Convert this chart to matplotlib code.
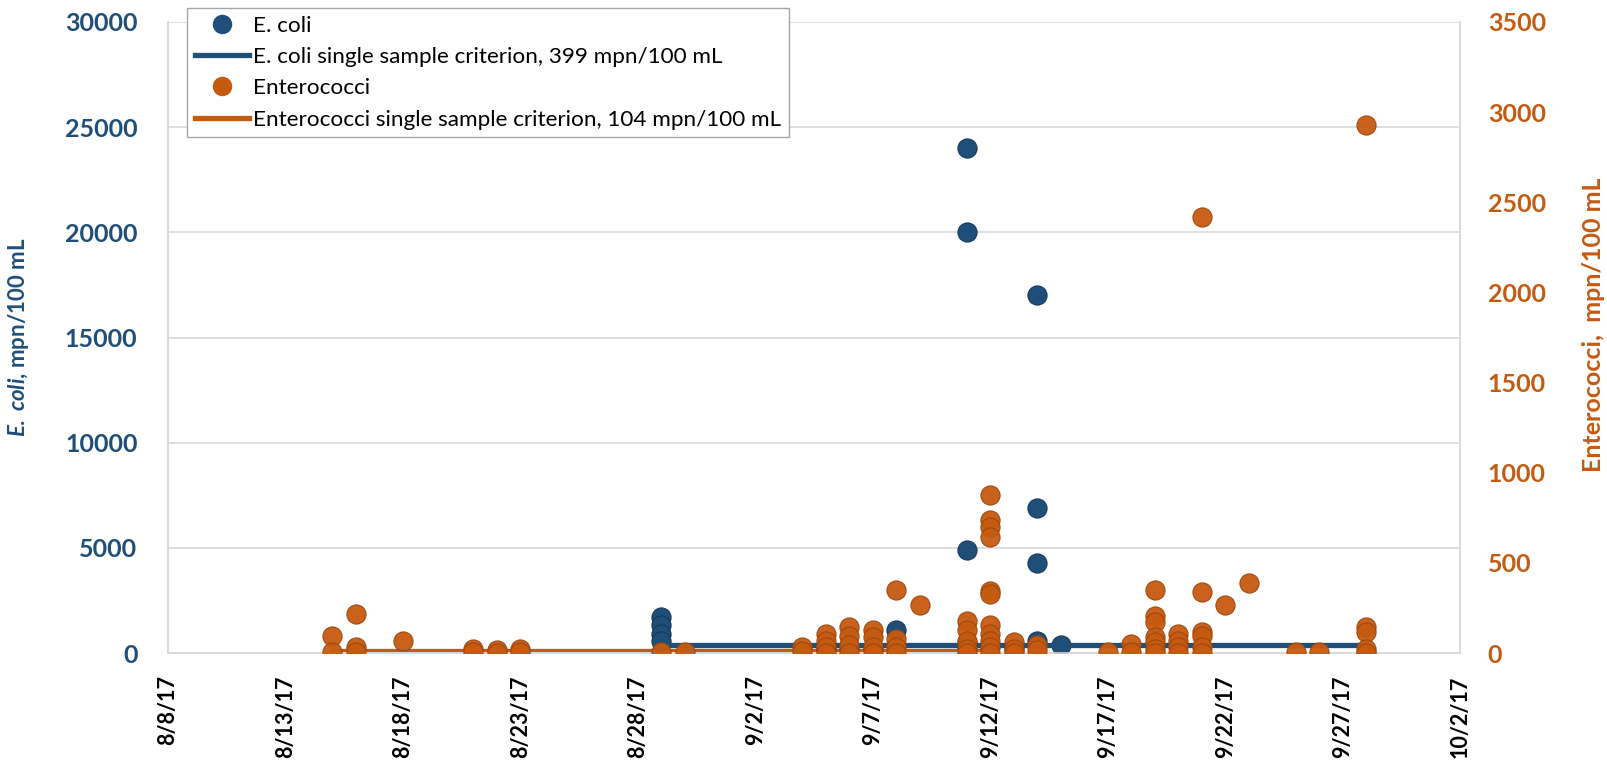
import datetime as dt

import matplotlib
matplotlib.use('Agg')
import matplotlib.pyplot as plt
import matplotlib.dates as mdates
from matplotlib.lines import Line2D

plt.rcParams['font.family'] = ['Lato', 'DejaVu Sans']
plt.rcParams['mathtext.fontset'] = 'custom'
plt.rcParams['mathtext.rm'] = 'Lato:bold'
plt.rcParams['mathtext.it'] = 'Lato:italic:bold'
plt.rcParams['mathtext.bf'] = 'Lato:bold'

BLUE = '#1F4E79'
ORANGE = '#C55A11'
GRID = '#d9d9d9'


def d(m, day):
    return dt.datetime(2017, m, day)


# E. coli samples, mpn/100 mL (left axis)
ecoli_dates = [d(8, 29), d(8, 29), d(8, 29), d(8, 29),
               d(9, 5), d(9, 6), d(9, 7), d(9, 8),
               d(9, 11), d(9, 11), d(9, 11), d(9, 11), d(9, 11),
               d(9, 12), d(9, 13),
               d(9, 14), d(9, 14), d(9, 14), d(9, 14),
               d(9, 15), d(9, 28)]
ecoli_vals = [1705, 1310, 914, 595,
              200, 300, 250, 1071,
              24000, 20000, 4900, 500, 300,
              350, 200,
              17000, 6900, 4300, 595,
              400, 20]

# Enterococci samples, mpn/100 mL (right axis)
ent_dates = ([d(8, 15)] * 2 + [d(8, 16)] * 3 + [d(8, 18)] + [d(8, 21)] * 2 +
             [d(8, 22)] * 2 + [d(8, 23)] * 2 + [d(8, 29)] + [d(8, 30)] +
             [d(9, 4)] * 2 + [d(9, 5)] * 4 + [d(9, 6)] * 4 + [d(9, 7)] * 4 +
             [d(9, 8)] * 4 + [d(9, 9)] + [d(9, 11)] * 5 + [d(9, 12)] * 11 +
             [d(9, 13)] * 3 + [d(9, 14)] * 2 + [d(9, 17)] + [d(9, 18)] * 2 +
             [d(9, 19)] * 7 + [d(9, 20)] * 4 + [d(9, 21)] * 6 + [d(9, 22)] +
             [d(9, 23)] + [d(9, 25)] + [d(9, 26)] + [d(9, 28)] * 5)
ent_vals = [97, 4,
            218, 32, 4,
            64,
            23, 4,
            14, 1,
            23, 4,
            5,
            5,
            32, 13,
            107, 69, 32, 1,
            143, 97, 42, 1,
            125, 88, 32, 1,
            351, 79, 32, 1,
            269,
            180, 125, 69, 25, 1,
            875, 736, 699, 643, 346, 329, 153, 108, 69, 31, 1,
            60, 23, 1,
            42, 14,
            5,
            51, 5,
            351, 208, 171, 88, 60, 23, 1,
            107, 69, 32, 1,
            2420, 338, 115, 97, 32, 1,
            264,
            388,
            5,
            5,
            2930, 143, 115, 23, 1]

# single sample criteria
ecoli_crit_dates = [d(8, 29), d(9, 28)]
ecoli_crit = [399, 399]
ent_crit_dates = [d(8, 15), d(9, 12)]
ent_crit = [104, 104]

x_ticks = [d(8, 8) + dt.timedelta(days=5 * i) for i in range(12)]

fig = plt.figure(figsize=(16.08, 7.74), dpi=100)
ax = fig.add_axes([0.1045, 0.1563, 0.8035, 0.8153])
ax2 = ax.twinx()

ax.scatter(ecoli_dates, ecoli_vals, s=190, color=BLUE, edgecolor='#163a5c',
           linewidth=0.8, zorder=3)
ax.plot(ent_crit_dates, ent_crit, color=ORANGE, linewidth=3.8, zorder=2)
ax.plot(ecoli_crit_dates, ecoli_crit, color=BLUE, linewidth=3.8, zorder=4)
ax2.scatter(ent_dates, ent_vals, s=190, color=ORANGE, edgecolor='#9e470d',
            linewidth=0.8, alpha=0.95, zorder=3)

ax.set_xlim(d(8, 8), d(10, 2))
ax.set_ylim(0, 30000)
ax2.set_ylim(0, 3500)
ax.set_yticks(range(0, 30001, 5000))
ax2.set_yticks(range(0, 3501, 500))
ax.set_xticks(x_ticks)
ax.xaxis.set_major_formatter(
    matplotlib.ticker.FuncFormatter(
        lambda v, p: '{0.month}/{0.day}/{1}'.format(mdates.num2date(v), 17)))

ax.grid(axis='y', color=GRID, linewidth=1.2)
ax.set_axisbelow(True)
for a in (ax, ax2):
    for s in a.spines.values():
        s.set_color(GRID)
        s.set_linewidth(1.2)
    a.spines['top'].set_visible(False)

ax.tick_params(axis='y', length=0, pad=22, labelsize=18, labelcolor=BLUE)
ax2.tick_params(axis='y', length=0, pad=20, labelsize=18, labelcolor=ORANGE)
ax.tick_params(axis='x', length=0, pad=16, labelsize=15.5, labelrotation=90)
for lbl in ax.get_yticklabels() + ax2.get_yticklabels() + ax.get_xticklabels():
    lbl.set_fontweight('bold')

ax.set_ylabel(r'$\mathit{E.}$ $\mathit{coli}$, mpn/100 mL', color=BLUE,
              fontsize=16, fontweight='bold')
ax.yaxis.set_label_coords(-0.106, 0.5)
ax2.set_ylabel('Enterococci,  mpn/100 mL', color=ORANGE, fontsize=18,
               fontweight='bold', rotation=90)
ax2.yaxis.set_label_coords(1.094, 0.52)

handles = [
    Line2D([], [], marker='o', linestyle='none', markersize=13, color=BLUE),
    Line2D([], [], color=BLUE, linewidth=3.8),
    Line2D([], [], marker='o', linestyle='none', markersize=13, color=ORANGE),
    Line2D([], [], color=ORANGE, linewidth=3.8),
]
labels = ['E. coli',
          'E. coli single sample criterion, 399 mpn/100 mL',
          'Enterococci',
          'Enterococci single sample criterion, 104 mpn/100 mL']
leg = fig.legend(handles, labels, loc='upper left',
                 bbox_to_anchor=(0.1163, 0.9897), borderaxespad=0,
                 fontsize=16.2, frameon=True, fancybox=False, framealpha=1,
                 edgecolor='#a6a6a6', handlelength=2.4, handletextpad=0.2,
                 labelspacing=0.5, borderpad=0.35)
leg.get_frame().set_linewidth(1.0)

fig.savefig('out.png', dpi=100)
